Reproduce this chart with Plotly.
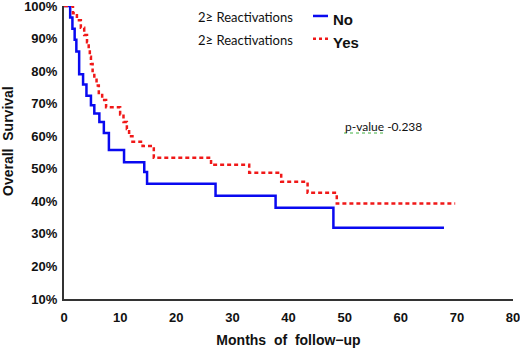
import plotly.graph_objects as go

# Kaplan-Meier step data (months, overall survival %)
no_months = [0, 1.1, 1.5, 1.9, 2.2, 2.7, 3.4, 4.0, 4.8, 5.4, 6.3, 7.1, 8.0, 10.7, 14.3, 14.8, 27.0, 37.7, 48.0, 67.7]
no_surv = [100, 96.5, 93.0, 89.6, 86.0, 79.0, 75.9, 72.4, 69.5, 67.0, 64.4, 61.0, 55.8, 52.0, 49.0, 45.4, 41.7, 38.0, 31.9, 31.9]

yes_months = [0, 1.6, 2.3, 3.0, 3.6, 4.1, 4.4, 4.6, 4.8, 5.1, 5.4, 5.8, 6.2, 6.8, 7.5, 10.0, 10.6, 11.2, 11.6, 12.2, 14.0, 16.0, 26.2, 33.0, 38.7, 43.4, 48.6, 69.7]
yes_surv = [100, 97.8, 95.6, 93.3, 91.1, 88.9, 86.7, 84.4, 82.2, 80.0, 77.8, 75.6, 73.3, 71.1, 68.9, 66.7, 64.4, 62.2, 60.0, 58.3, 57.0, 53.4, 51.2, 48.8, 46.0, 42.6, 39.3, 39.3]

x_ticks = [0, 10, 20, 30, 40, 50, 60, 70, 80]
y_ticks = [10, 20, 30, 40, 50, 60, 70, 80, 90, 100]
y_tick_labels = [f"{v}%" for v in y_ticks]

legend_group_label = "2\u2265 Reactivations"
series_names = ["No", "Yes"]
p_value_text = "p-value -0.238"
x_title = "Months  of  follow\u2212up"
y_title = "Overall  Survival"

BLUE = "#0a0af0"
RED = "#f01818"
AX = "#333333"
TICKFONT = dict(family="Liberation Sans, Arial", size=13, color="#111111", weight="bold")
TITLEFONT = dict(family="Liberation Sans, Arial", size=14, color="#111111", weight="bold")

fig = go.Figure()
fig.add_trace(go.Scatter(x=no_months, y=no_surv, mode="lines", line_shape="hv",
                         line=dict(color=BLUE, width=2.5), cliponaxis=False,
                         name=series_names[0], showlegend=False))
fig.add_trace(go.Scatter(x=yes_months, y=yes_surv, mode="lines", line_shape="hv",
                         line=dict(color=RED, width=2.5, dash="4px,3px"), cliponaxis=False,
                         name=series_names[1], showlegend=False))

fig.update_layout(
    width=520, height=353,
    margin=dict(l=64, r=7, t=6, b=54),
    paper_bgcolor="white", plot_bgcolor="white",
    xaxis=dict(range=[0, 80], tickvals=x_ticks, ticktext=[str(v) for v in x_ticks],
               showgrid=False, zeroline=False, showline=True, linecolor=AX, linewidth=2,
               ticks="outside", ticklen=5, tickcolor="rgba(0,0,0,0)",
               tickfont=TICKFONT, automargin=False, ticklabeloverflow="allow",
               title=dict(text=x_title, standoff=12, font=TITLEFONT)),
    yaxis=dict(range=[10, 100], tickvals=y_ticks, ticktext=y_tick_labels,
               showgrid=False, zeroline=False, showline=True, linecolor=AX, linewidth=2,
               ticks="outside", ticklen=2, tickcolor="rgba(0,0,0,0)",
               tickfont=TICKFONT, automargin=False, ticklabeloverflow="allow"),
)

# Y-axis title as rotated annotation (sits slightly above plot centre in the reference)
fig.add_annotation(xref="paper", yref="paper", x=(8 - 64) / 449, y=1 - (141 - 6) / 293,
                   text=y_title, textangle=-90, showarrow=False,
                   xanchor="center", yanchor="middle", font=TITLEFONT)

# Legend drawn as annotations + sample lines
leg_rows = [(BLUE, "solid", 0.963, series_names[0]), (RED, "3px,3px", 0.885, series_names[1])]
for color, dash, yp, name in leg_rows:
    fig.add_annotation(xref="paper", yref="paper", x=(295 - 64) / 449, y=yp, text=legend_group_label,
                       showarrow=False, xanchor="right", yanchor="middle",
                       font=dict(family="Lato", size=13, color="#111111"))
    fig.add_shape(type="line", xref="paper", yref="paper",
                  x0=(313 - 64) / 449, x1=(328 - 64) / 449, y0=yp + 0.003, y1=yp + 0.003,
                  line=dict(color=color, width=2.5, dash=dash))
    fig.add_annotation(xref="paper", yref="paper", x=(331 - 64) / 449, y=yp - 0.008, text=name,
                       showarrow=False, xanchor="left", yanchor="middle",
                       font=dict(family="Liberation Sans, Arial", size=15, color="#111111", weight="bold"))

fig.add_annotation(xref="paper", yref="paper", x=(343 - 64) / 449, y=1 - (126 - 6) / 293,
                   text=p_value_text, showarrow=False, xanchor="left", yanchor="middle",
                   font=dict(family="Lato", size=12, color="#111111"))
fig.add_shape(type="line", xref="paper", yref="paper",
              x0=(344 - 64) / 449, x1=(386 - 64) / 449,
              y0=1 - (133 - 6) / 293, y1=1 - (133 - 6) / 293,
              line=dict(color="#40b040", width=1, dash="dot"))

fig.write_html("out.html", config={"displayModeBar": False},
               post_script="document.body.style.margin='0px';document.body.style.padding='0px';")
